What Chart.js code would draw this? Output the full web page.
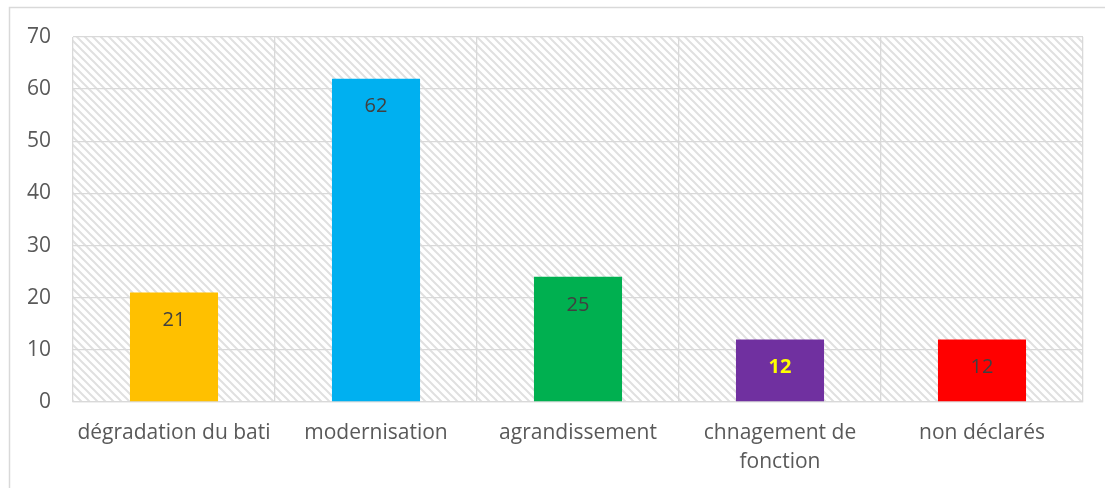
<!DOCTYPE html>
<html>
<head>
<meta charset="utf-8">
<script src="https://cdn.jsdelivr.net/npm/chart.js@4.4.1/dist/chart.umd.min.js"></script>
<style>
html,body{margin:0;padding:0;background:#fff;}
#wrap{position:relative;width:1105px;height:488px;}
</style>
</head>
<body>
<div id="wrap"><canvas id="c" width="1105" height="488"></canvas></div>
<script>
const categories = [['dégradation du bati'], ['modernisation'], ['agrandissement'], ['chnagement de', 'fonction'], ['non déclarés']];
const values = [21, 62, 24, 12, 12];
const valueLabels = ['21', '62', '25', '12', '12'];
const barColors = ['#FFC000', '#00B0F0', '#00B050', '#7030A0', '#FF0000'];
const labelColors = ['#404040', '#404040', '#404040', '#FFFF00', '#404040'];
const labelBold = [false, false, false, true, false];
const yTicks = [0, 10, 20, 30, 40, 50, 60, 70];

const FONT = '"Open Sans", Lato, sans-serif';

function makePattern() {
  const s = 8;
  const p = document.createElement('canvas');
  p.width = s; p.height = s;
  const g = p.getContext('2d');
  g.fillStyle = '#ffffff';
  g.fillRect(0, 0, s, s);
  g.strokeStyle = '#e0e0e0';
  g.lineWidth = 2;
  g.beginPath();
  g.moveTo(-s, 0); g.lineTo(s * 2, s * 3);
  g.moveTo(0, 0); g.lineTo(s, s);
  g.moveTo(-s, -s); g.lineTo(s * 2, s * 2);
  g.moveTo(0, -s); g.lineTo(s * 2, s);
  g.moveTo(-s, 0); g.lineTo(s, s * 2);
  g.stroke();
  return p;
}

const bgPlugin = {
  id: 'bgPlugin',
  beforeDraw(chart) {
    const ctx = chart.ctx;
    const a = chart.chartArea;
    ctx.save();
    ctx.fillStyle = '#ffffff';
    ctx.fillRect(0, 0, chart.width, chart.height);
    ctx.strokeStyle = '#d9d9d9';
    ctx.lineWidth = 1.5;
    ctx.beginPath();
    ctx.moveTo(9.5, chart.height + 2);
    ctx.lineTo(9.5, 7.5);
    ctx.lineTo(chart.width + 2, 7.5);
    ctx.stroke();
    ctx.fillStyle = ctx.createPattern(makePattern(), 'repeat');
    ctx.fillRect(a.left, a.top, a.right - a.left, a.bottom - a.top);
    ctx.restore();
  }
};

const labelPlugin = {
  id: 'labelPlugin',
  afterDatasetsDraw(chart) {
    const ctx = chart.ctx;
    const meta = chart.getDatasetMeta(0);
    ctx.save();
    ctx.textAlign = 'center';
    ctx.textBaseline = 'middle';
    meta.data.forEach((bar, i) => {
      ctx.font = (labelBold[i] ? 'bold ' : '') + '20px ' + FONT;
      ctx.fillStyle = labelColors[i];
      ctx.fillText(valueLabels[i], bar.x, bar.y + 28);
    });
    ctx.restore();
  }
};

new Chart(document.getElementById('c'), {
  type: 'bar',
  data: {
    labels: categories,
    datasets: [{
      data: values,
      backgroundColor: barColors,
      borderWidth: 0,
      categoryPercentage: 1,
      barPercentage: 0.436
    }]
  },
  options: {
    responsive: false,
    animation: false,
    devicePixelRatio: 1,
    layout: { padding: { left: 0, top: 37, right: 22, bottom: 0 } },
    plugins: { legend: { display: false }, tooltip: { enabled: false } },
    scales: {
      x: {
        offset: true,
        grid: { color: '#d9d9d9', lineWidth: 1.3, drawTicks: false, offset: true },
        border: { color: '#d9d9d9', width: 1.3 },
        ticks: {
          color: '#595959',
          font: { family: FONT, size: 21, lineHeight: 1.38 },
          padding: 17,
          maxRotation: 0,
          autoSkip: false
        },
        afterFit(scale) { scale.height = 86; }
      },
      y: {
        min: 0,
        max: 70,
        afterBuildTicks(scale) { scale.ticks = yTicks.map(v => ({ value: v })); },
        grid: { color: '#d9d9d9', lineWidth: 1.3, drawTicks: false },
        border: { display: false },
        ticks: {
          color: '#595959',
          font: { family: FONT, size: 21 },
          padding: 22
        },
        afterFit(scale) { scale.width = 73; }
      }
    }
  },
  plugins: [bgPlugin, labelPlugin]
});
</script>
</body>
</html>
